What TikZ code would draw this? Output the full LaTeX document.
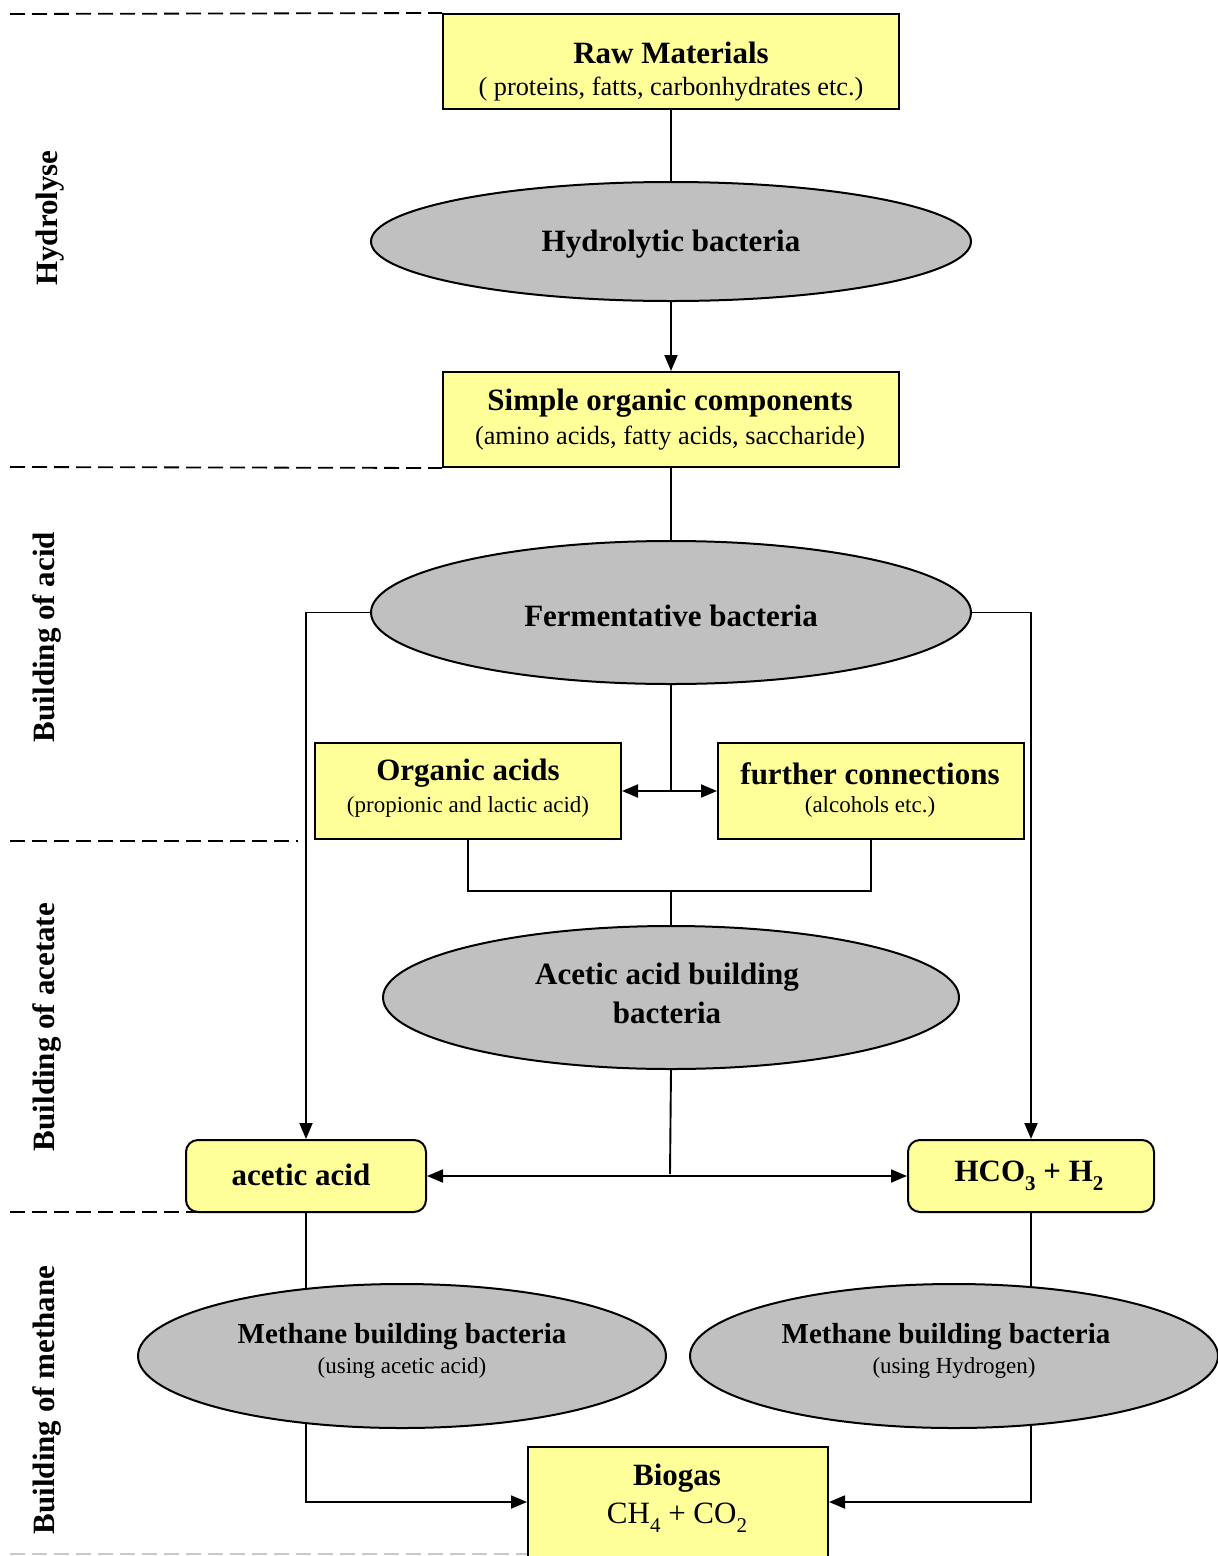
\documentclass[tikz,border=0pt]{standalone}
\usepackage{fontspec}
\setmainfont{Liberation Serif}
\usetikzlibrary{shapes.geometric,arrows.meta,backgrounds}
\definecolor{yfill}{HTML}{FFFF99}
\definecolor{gfill}{HTML}{C0C0C0}
\definecolor{lgray}{HTML}{C8C8C8}
\newcommand\myfs[1]{\fontsize{#1}{#1}\selectfont}
\newcommand\lowsub[1]{\raisebox{-0.28em}{\myfs{21}#1}}
\begin{document}
\begin{tikzpicture}[x=1pt,y=-1pt,
  ybox/.style={draw, line width=2pt, fill=yfill, inner sep=0pt},
  rbox/.style={ybox, rounded corners=12pt},
  gell/.style={ellipse, draw, line width=2pt, fill=gfill, inner sep=0pt},
  ttl/.style={font=\bfseries\myfs{31}, inner sep=0pt},
  mttl/.style={font=\bfseries\myfs{29}, inner sep=0pt},
  sub/.style={font=\myfs{26.3}, inner sep=0pt},
  ssub/.style={font=\myfs{23}, inner sep=0pt},
  side/.style={font=\bfseries\myfs{31}, rotate=90, inner sep=0pt},
  conn/.style={line width=1.9pt},
  arr/.style={conn, -{Triangle[length=16pt,width=13pt]}},
  darr/.style={conn, {Triangle[length=16pt,width=13pt]}-{Triangle[length=16pt,width=13pt]}},
  sepline/.style={line width=1.8pt, dash pattern=on 15pt off 7pt}]
\useasboundingbox (0,0) rectangle (1218,1556);

% shapes
\node[ybox, minimum width=456pt, minimum height=95pt] (raw) at (671,61.5) {};
\node[gell, minimum width=600pt, minimum height=119pt] (hyd) at (671,241.5) {};
\node[ybox, minimum width=456pt, minimum height=95pt] (simple) at (671,419.5) {};
\node[gell, minimum width=600pt, minimum height=143pt] (ferm) at (671,612.5) {};
\node[ybox, minimum width=306pt, minimum height=96pt] (orgac) at (468,791) {};
\node[ybox, minimum width=306pt, minimum height=96pt] (further) at (871,791) {};
\node[gell, minimum width=576pt, minimum height=143pt] (acetell) at (671,997.5) {};
\node[rbox, minimum width=240pt, minimum height=72pt] (acetic) at (306,1176) {};
\node[rbox, minimum width=246pt, minimum height=72pt] (hco) at (1031,1176) {};
\node[gell, minimum width=528pt, minimum height=144pt] (meth1) at (402,1356) {};
\node[gell, minimum width=528pt, minimum height=144pt] (meth2) at (954,1356) {};
\node[ybox, minimum width=300pt, minimum height=110pt] (bio) at (678,1502) {};

% texts
\node[ttl] (t1) at (671,53) {Raw Materials};
\node[sub] (t1s) at (671,89) {( proteins, fatts, carbonhydrates etc.)};
\node[ttl] (t2) at (671,244.5) {Hydrolytic bacteria};
\node[ttl] (t3) at (670,403) {Simple organic components};
\node[sub] (t3s) at (670,438) {(amino acids, fatty acids, saccharide)};
\node[ttl] (t4) at (671,616) {Fermentative bacteria};
\node[ttl] (t5) at (468,773.5) {Organic acids};
\node[ssub] (t5s) at (468,807) {(propionic and lactic acid)};
\node[ttl] (t6) at (870,773.5) {further connections};
\node[ssub] (t6s) at (870,807) {(alcohols etc.)};
\node[ttl] (t7) at (667,977.5) {Acetic acid building};
\node[ttl] (t7b) at (667,1013) {bacteria};
\node[ttl] (t8) at (301,1175) {acetic acid};
\node[ttl] (t9) at (1029,1176) {HCO\lowsub{3} + H\lowsub{2}};
\node[mttl] (t10) at (402,1336.5) {Methane building bacteria};
\node[ssub] (t10s) at (402,1368) {(using acetic acid)};
\node[mttl] (t11) at (946,1336.5) {Methane building bacteria};
\node[ssub] (t11s) at (954,1368) {(using Hydrogen)};
\node[ttl] (t12) at (677,1478.5) {Biogas};
\node[font=\myfs{31}, inner sep=0pt] (t13) at (677,1517.5) {CH\lowsub{4} + CO\lowsub{2}};

% side labels
\node[side] (s1) at (50,218) {Hydrolyse};
\node[side] (s2) at (47,637) {Building of acid};
\node[side] (s3) at (47,1027) {Building of acetate};
\node[side] (s4) at (47,1400) {Building of methane};

\coordinate (fj) at (671,791);
\coordinate (aj) at (671,891);
\coordinate (vend) at (670,1174);

\begin{pgfonlayer}{background}
% separators
\draw[sepline] (10,14) -- (raw.north west);
\draw[sepline] (10,467) -- (simple.south west);
\draw[sepline] (10,841) -- (298,841);
\draw[sepline] (10,1212) -- (200,1212);
\draw[sepline, lgray] (10,1554) -- (528,1554);

% connectors
\draw[conn] (raw.south) -- (hyd.north);
\draw[arr] (hyd.south) -- (simple.north);
\draw[conn] (simple.south) -- (ferm.north);
\draw[arr] (ferm.west) -| (acetic.north);
\draw[arr] (ferm.east) -| (hco.north);
\draw[conn] (ferm.south) -- (fj);
\draw[darr] (orgac.east) -- (further.west);
\draw[conn] (orgac.south) |- (aj) -| (further.south);
\draw[conn] (aj) -- (acetell.north);
\draw[conn] (acetell.south) -- (vend);
\draw[darr] (acetic.east) -- (hco.west);
\draw[conn] (acetic.south) -- (acetic.south |- meth1.center);
\draw[conn] (hco.south) -- (hco.south |- meth2.center);
\draw[arr] (acetic.south |- meth1.center) |- (bio.west);
\draw[arr] (hco.south |- meth2.center) |- (bio.east);
\end{pgfonlayer}
\end{tikzpicture}
\end{document}
